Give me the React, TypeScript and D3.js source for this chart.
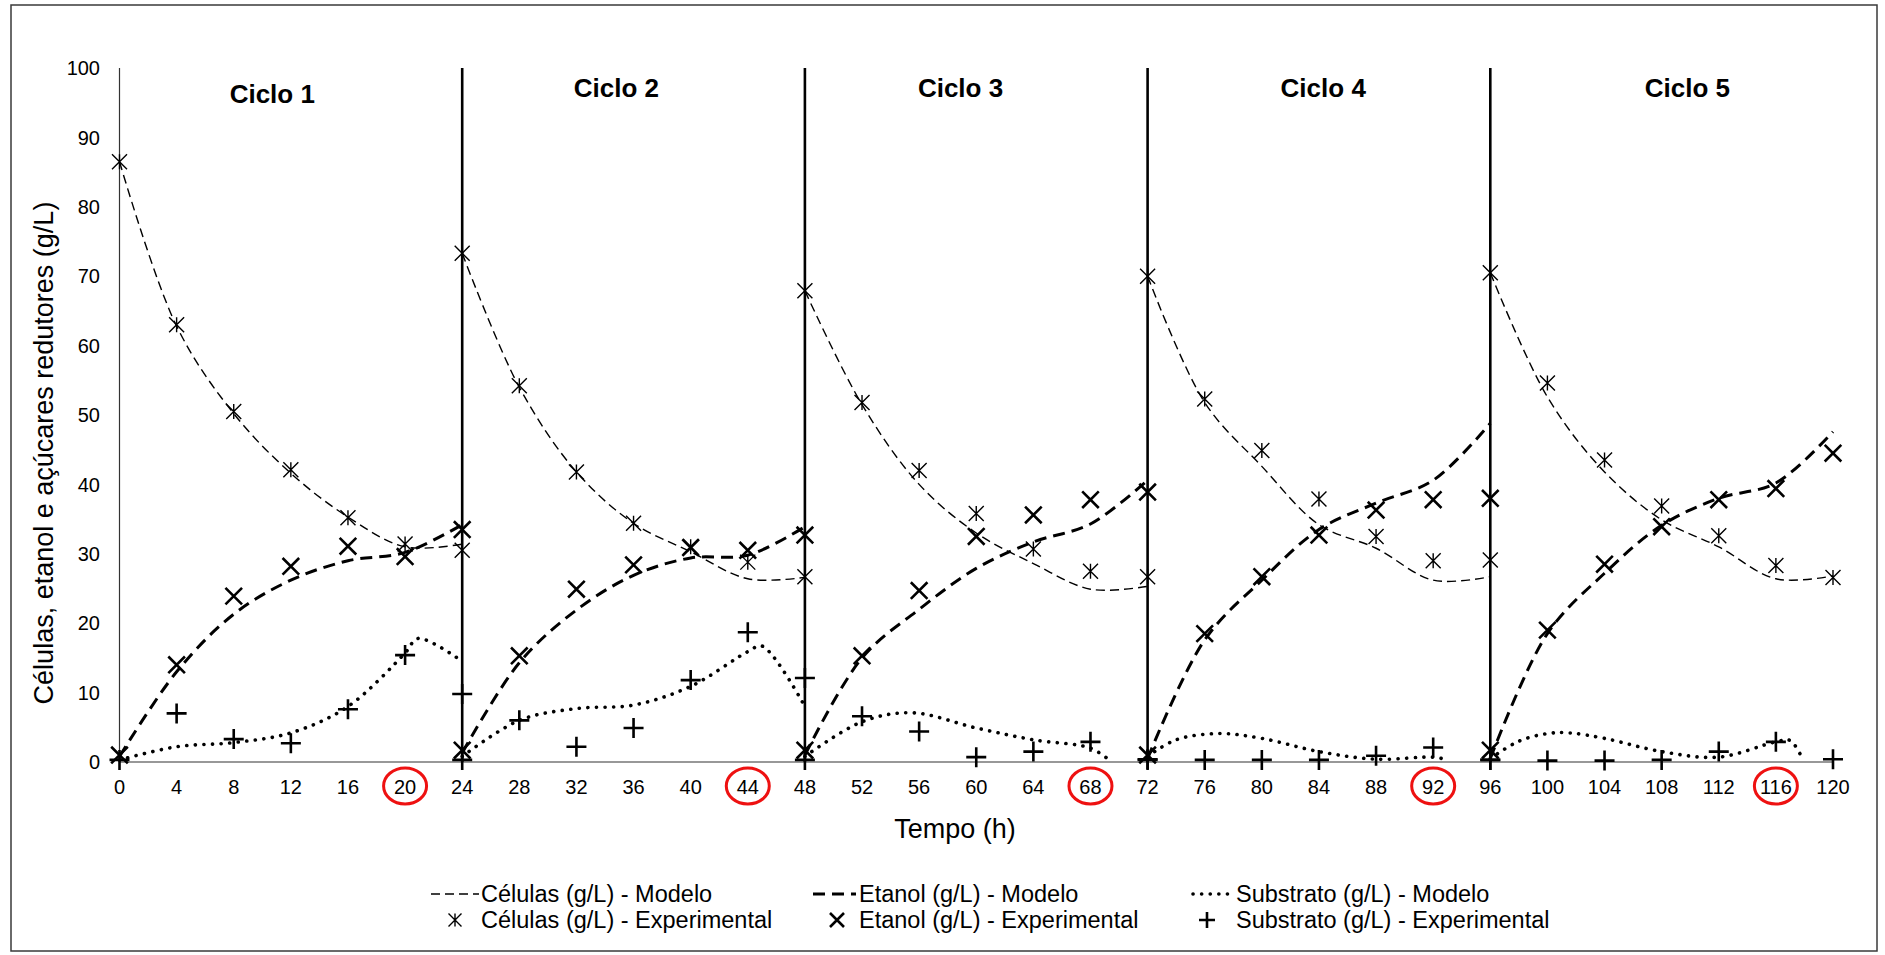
import React from 'react';
import * as d3 from 'd3';

// Ciclos de fermentação em batelada alimentada repetida (5 ciclos de 24 h)
const WIDTH = 1885;
const HEIGHT = 955;

const xTicks = d3.range(0, 121, 4);
const yTicks = d3.range(0, 101, 10);
const cycleBounds = [24, 48, 72, 96];
const cycleNames = ['Ciclo 1', 'Ciclo 2', 'Ciclo 3', 'Ciclo 4', 'Ciclo 5'];
const cycleLabelHour = [10.7, 34.8, 58.9, 84.3, 109.8];
const cycleLabelValue = [95.0, 95.8, 95.8, 95.8, 95.8];
const highlightedHours = [20, 44, 68, 92, 116];

// Horas de amostragem dentro de cada ciclo
const sampleOffsets = [0, 4, 8, 12, 16, 20, 24];
const cycleStarts = [0, 24, 48, 72, 96];

// Dados experimentais (g/L), um vetor por ciclo
const cellsExp = [
  [86.5, 63.0, 50.5, 42.1, 35.2, 31.4, 30.5],
  [73.3, 54.2, 41.8, 34.4, 31.0, 28.8, 26.7],
  [67.9, 51.8, 42.0, 35.8, 30.7, 27.5, 26.7],
  [70.0, 52.3, 44.9, 37.9, 32.5, 29.0, 29.1],
  [70.5, 54.6, 43.5, 36.9, 32.6, 28.3, 26.6],
];
const ethanolExp = [
  [1.0, 14.0, 23.9, 28.2, 31.1, 29.6, 33.5],
  [1.7, 15.3, 24.9, 28.4, 30.9, 30.5, 32.7],
  [1.7, 15.3, 24.7, 32.5, 35.6, 37.8, 38.9],
  [1.0, 18.5, 26.7, 32.7, 36.3, 37.8, 38.0],
  [1.7, 19.0, 28.5, 33.9, 37.8, 39.4, 44.5],
];
const substrateExp = [
  [0.3, 7.0, 3.3, 2.7, 7.6, 15.4, 9.8],
  [0.3, 6.0, 2.2, 4.9, 11.8, 18.7, 12.1],
  [0.3, 6.6, 4.4, 0.7, 1.5, 2.9, 0.4],
  [0.3, 0.3, 0.3, 0.3, 0.9, 2.1, 0.3],
  [0.3, 0.2, 0.2, 0.3, 1.5, 2.9, 0.4],
];

// Curvas do modelo: pares [hora, g/L] por ciclo
const cellsModel: [number, number][][] = [
  [[0, 86.5], [4, 62.8], [8, 50.2], [12, 41.6], [16, 35.3], [20, 31.0], [24, 31.4]],
  [[24, 73.3], [28, 54.0], [32, 41.8], [36, 34.4], [40, 30.3], [44, 26.4], [48, 26.6]],
  [[48, 67.9], [52, 51.5], [56, 40.0], [60, 33.0], [64, 28.6], [68, 24.9], [72, 25.3]],
  [[72, 70.0], [76, 51.8], [80, 42.6], [84, 34.2], [88, 30.8], [92, 26.2], [96, 26.7]],
  [[96, 70.5], [100, 52.6], [104, 41.8], [108, 34.9], [112, 31.0], [116, 26.4], [120, 26.8]],
];
const ethanolModel: [number, number][][] = [
  [[0, 0.8], [4, 13.0], [8, 21.3], [12, 26.2], [16, 29.0], [20, 30.2], [24, 34.2]],
  [[24, 1.3], [28, 14.3], [32, 21.9], [36, 26.9], [40, 29.4], [44, 29.8], [48, 33.9]],
  [[48, 1.0], [52, 15.0], [56, 22.0], [60, 27.9], [64, 31.7], [68, 34.3], [72, 40.6]],
  [[72, 0.5], [76, 17.6], [80, 26.2], [84, 33.5], [88, 37.3], [92, 40.6], [96, 48.8]],
  [[96, 0.5], [100, 18.5], [104, 27.2], [108, 34.1], [112, 38.0], [116, 40.2], [120, 47.6]],
];
const substrateModel: [number, number][][] = [
  [[0, 0.3], [4, 2.2], [8, 2.8], [12, 4.2], [16, 8.0], [20, 15.7], [20.9, 17.8], [24, 14.5]],
  [[24, 0.8], [28, 6.0], [32, 7.7], [36, 8.2], [40, 10.9], [44, 15.9], [45, 16.7], [48, 8.0]],
  [[48, 0.8], [52, 5.8], [55.5, 7.1], [60, 4.9], [64, 3.2], [68, 2.0], [69.3, 0.3]],
  [[72, 0.8], [74, 3.2], [77, 4.1], [80, 3.4], [84, 1.5], [88, 0.4], [92, 0.7], [93, 0.3]],
  [[96, 0.5], [98, 3.0], [100, 4.1], [101.5, 4.2], [104, 3.4], [108, 1.5], [112, 0.7], [116, 2.9], [117, 3.1], [117.9, 0.3]],
];

const FONT = '"Liberation Sans", Arial, Helvetica, sans-serif';

const starPath = (s: number) => `M${-s},${-s}L${s},${s}M${-s},${s}L${s},${-s}M0,${-s}L0,${s}`;
const crossPath = (s: number) => `M${-s},${-s}L${s},${s}M${-s},${s}L${s},${-s}`;
const plusPath = (s: number) => `M${-s},0L${s},0M0,${-s}L0,${s}`;

const styles = {
  cellsLine: { stroke: '#000', strokeWidth: 1.4, strokeDasharray: '9 5', fill: 'none' },
  ethanolLine: { stroke: '#000', strokeWidth: 3, strokeDasharray: '12 7', fill: 'none' },
  substrateLine: { stroke: '#000', strokeWidth: 3.6, strokeDasharray: '0.1 8.5', strokeLinecap: 'round' as const, fill: 'none' },
};

export default function App() {
  const x = d3.scaleLinear().domain([0, 120]).range([119.5, 1833]);
  const y = d3.scaleLinear().domain([0, 100]).range([762, 68]);

  const line = d3
    .line<[number, number]>()
    .x((d) => x(d[0]))
    .y((d) => y(d[1]))
    .curve(d3.curveCatmullRom.alpha(0.5));

  const points = (series: number[][]) =>
    series.flatMap((vals, c) => vals.map((v, i) => ({ t: cycleStarts[c] + sampleOffsets[i], v })));

  const cellsPts = points(cellsExp);
  const ethanolPts = points(ethanolExp);
  const substratePts = points(substrateExp);

  const legendRow1 = 902;
  const legendRow2 = 928;

  return (
    <svg
      width={WIDTH}
      height={HEIGHT}
      style={{ position: 'absolute', left: 0, top: 0, background: '#fff' }}
      fontFamily={FONT}
    >
      <rect x={0} y={0} width={WIDTH} height={HEIGHT} fill="#fff" />
      <rect x={11} y={5} width={1866} height={946} fill="none" stroke="#3a3a3a" strokeWidth={1.5} />

      {/* eixos */}
      <line x1={x(0)} x2={x(120)} y1={y(0)} y2={y(0)} stroke="#333" strokeWidth={1.2} />
      <line x1={x(0)} x2={x(0)} y1={y(0)} y2={y(100)} stroke="#333" strokeWidth={1.2} />

      {yTicks.map((v) => (
        <text key={`y${v}`} x={100} y={y(v)} dy="0.36em" textAnchor="end" fontSize={20} fill="#000">
          {v}
        </text>
      ))}
      {xTicks.map((t) => (
        <text key={`x${t}`} x={x(t)} y={794} textAnchor="middle" fontSize={20} fill="#000">
          {t}
        </text>
      ))}
      {highlightedHours.map((t) => (
        <ellipse key={`e${t}`} cx={x(t)} cy={786} rx={21.5} ry={18} fill="none" stroke="#ee1111" strokeWidth={3} />
      ))}

      <text x={955} y={838} textAnchor="middle" fontSize={27}>
        Tempo (h)
      </text>
      <text transform={`translate(53,${453}) rotate(-90)`} textAnchor="middle" fontSize={27}>
        Células, etanol e açúcares redutores (g/L)
      </text>

      {/* curvas do modelo */}
      {cellsModel.map((d, i) => (
        <path key={`cm${i}`} d={line(d) ?? ''} {...styles.cellsLine} />
      ))}
      {ethanolModel.map((d, i) => (
        <path key={`em${i}`} d={line(d) ?? ''} {...styles.ethanolLine} />
      ))}
      {substrateModel.map((d, i) => (
        <path key={`sm${i}`} d={line(d) ?? ''} {...styles.substrateLine} />
      ))}

      {/* separadores de ciclo */}
      {cycleBounds.map((t) => (
        <line key={`b${t}`} x1={x(t)} x2={x(t)} y1={y(0)} y2={y(100)} stroke="#000" strokeWidth={2.6} />
      ))}

      {/* pontos experimentais */}
      {cellsPts.map((p, i) => (
        <path key={`cp${i}`} transform={`translate(${x(p.t)},${y(p.v)})`} d={starPath(7.5)} stroke="#000" strokeWidth={1.4} fill="none" />
      ))}
      {ethanolPts.map((p, i) => (
        <path key={`ep${i}`} transform={`translate(${x(p.t)},${y(p.v)})`} d={crossPath(8.3)} stroke="#000" strokeWidth={2.6} fill="none" />
      ))}
      {substratePts.map((p, i) => (
        <path key={`sp${i}`} transform={`translate(${x(p.t)},${y(p.v)})`} d={plusPath(10)} stroke="#000" strokeWidth={2.6} fill="none" />
      ))}

      {cycleNames.map((name, i) => (
        <text
          key={name}
          x={x(cycleLabelHour[i])}
          y={y(cycleLabelValue[i])}
          textAnchor="middle"
          fontSize={26}
          fontWeight="bold"
        >
          {name}
        </text>
      ))}

      {/* legenda */}
      <g fontSize={23.5}>
        <line x1={431} x2={479} y1={legendRow1 - 8} y2={legendRow1 - 8} {...styles.cellsLine} />
        <text x={481} y={legendRow1}>Células (g/L) - Modelo</text>
        <line x1={813} x2={856} y1={legendRow1 - 8} y2={legendRow1 - 8} {...styles.ethanolLine} />
        <text x={859} y={legendRow1}>Etanol (g/L) - Modelo</text>
        <line x1={1193} x2={1230} y1={legendRow1 - 8} y2={legendRow1 - 8} {...styles.substrateLine} />
        <text x={1236} y={legendRow1}>Substrato (g/L) - Modelo</text>

        <path transform={`translate(455,${legendRow2 - 8})`} d={starPath(6.5)} stroke="#000" strokeWidth={1.4} fill="none" />
        <text x={481} y={legendRow2}>Células (g/L) - Experimental</text>
        <path transform={`translate(837,${legendRow2 - 8})`} d={crossPath(7)} stroke="#000" strokeWidth={2.6} fill="none" />
        <text x={859} y={legendRow2}>Etanol (g/L) - Experimental</text>
        <path transform={`translate(1207,${legendRow2 - 8})`} d={plusPath(8)} stroke="#000" strokeWidth={2.6} fill="none" />
        <text x={1236} y={legendRow2}>Substrato (g/L) - Experimental</text>
      </g>
    </svg>
  );
}
